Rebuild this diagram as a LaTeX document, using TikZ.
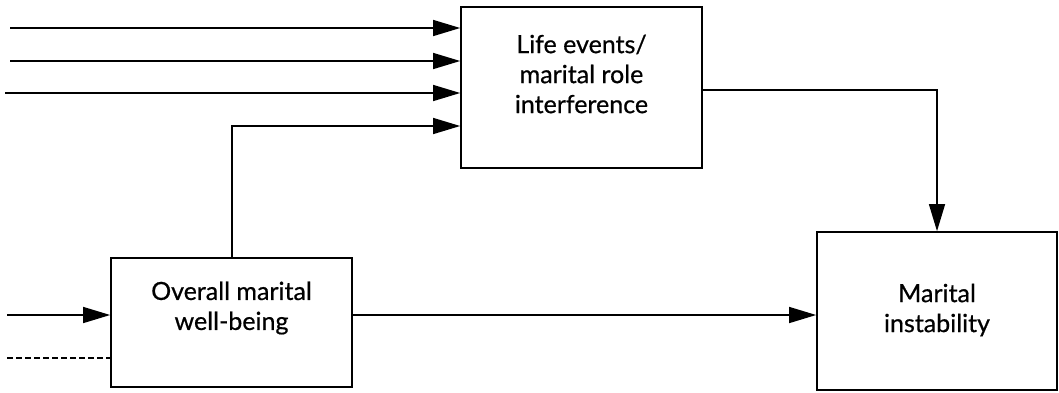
\documentclass[tikz,border=0pt]{standalone}
\usepackage{fontspec}
\setmainfont{Lato}
\newfontfamily\boxfont{Lato}[FakeBold=0.6]
\usetikzlibrary{arrows.meta}
\begin{document}
\begin{tikzpicture}[x=1pt,y=-1pt,
  box/.style={draw,line width=1.7pt,minimum width=#1,inner sep=0pt},
  lbl/.style={align=center,font=\boxfont\fontsize{25}{30}\selectfont},
  arr/.style={line width=1.4pt,-{Triangle[length=27pt,width=16pt]}},
  ln/.style={line width=1.4pt}]
\useasboundingbox (0,0) rectangle (1059,392);
% boxes
\node[box=241pt,minimum height=161pt] (life) at (581.5,87.5) {};
\node[box=241pt,minimum height=129pt] (well) at (231.5,322.5) {};
\node[box=240pt,minimum height=158pt] (inst) at (937,311) {};
% labels
\node[lbl] (lifet) at (581.5,74) {Life events/\\marital role\\interference};
\node[lbl] (wellt) at (231.5,308) {Overall marital\\well-being};
\node[lbl] (instt) at (937,310) {Marital\\instability};
% inputs to the life-events box
\coordinate (a1) at (10,28);
\coordinate (a2) at (10,61);
\coordinate (a3) at (5,93);
\draw[arr] (a1) -- (a1 -| life.west);
\draw[arr] (a2) -- (a2 -| life.west);
\draw[arr] (a3) -- (a3 -| life.west);
\draw[arr] (232,0 |- well.north) -- (232,126) -- (life.west |- 0,126);
% inputs to the well-being box
\coordinate (b1) at (7,315);
\coordinate (b2) at (7,358);
\draw[arr] (b1) -- (b1 -| well.west);
\draw[ln,dashed,dash pattern=on 6pt off 3pt] (b2) -- (b2 -| well.west);
% paths to marital instability
\draw[arr] (well.east |- 0,315) -- (inst.west |- 0,315);
\draw[arr] (life.east |- 0,90) -- (937,90) -- (inst.north);
\end{tikzpicture}
\end{document}
